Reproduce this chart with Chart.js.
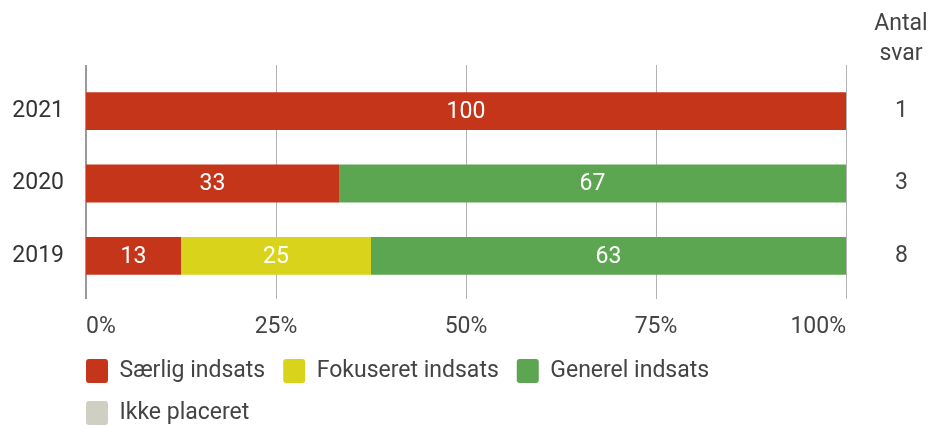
<!DOCTYPE html>
<html>
<head>
<meta charset="utf-8">
<script src="https://cdn.jsdelivr.net/npm/chart.js@4.4.0/dist/chart.umd.min.js"></script>
<style>
html, body { margin: 0; padding: 0; background: #fff; }
#wrap { width: 930px; height: 425px; }
</style>
</head>
<body>
<div id="wrap"><canvas id="mycanvas"></canvas></div>
<script>
var years = ['2021', '2020', '2019'];
var saerlig = [100, 33.3, 12.5];
var fokuseret = [0, 0, 25];
var generel = [0, 66.7, 62.5];
var ikkePlaceret = [0, 0, 0];
var antalSvar = ['1', '3', '8'];
var xTicks = [0, 25, 50, 75, 100];

var textColor = '#444';
Chart.defaults.font.family = 'Roboto, sans-serif';
Chart.defaults.font.size = 23;

// vertical grid lines, a bit longer than the plot area
var gridLines = {
	id: 'gridLines',
	beforeDatasetsDraw: function(chart) {
		var ctx = chart.ctx, area = chart.chartArea, x = chart.scales.x;
		ctx.save();
		xTicks.forEach(function(v) {
			var px = x.getPixelForValue(v);
			ctx.beginPath();
			if (v === 0) {
				ctx.lineWidth = 2;
				ctx.strokeStyle = '#9a9a9a';
				px = Math.round(px);
			} else {
				ctx.lineWidth = 1;
				ctx.strokeStyle = '#b4b4b4';
				px = Math.round(px) + 0.5;
			}
			ctx.moveTo(px, area.top - 10);
			ctx.lineTo(px, area.bottom + 7);
			ctx.stroke();
		});
		ctx.restore();
	}
};

// value labels inside the bars
var barLabels = {
	id: 'barLabels',
	afterDatasetsDraw: function(chart) {
		var ctx = chart.ctx;
		ctx.save();
		ctx.fillStyle = '#fff';
		ctx.font = '23px Roboto, sans-serif';
		ctx.textAlign = 'center';
		ctx.textBaseline = 'middle';
		chart.data.datasets.forEach(function(ds, i) {
			var meta = chart.getDatasetMeta(i);
			meta.data.forEach(function(bar, j) {
				var v = ds.data[j];
				if (!v) return;
				ctx.fillText(Math.round(v), (bar.x + bar.base) / 2, bar.y + 1);
			});
		});
		ctx.restore();
	}
};

// "Antal svar" header over the right axis
var header = {
	id: 'header',
	afterDraw: function(chart) {
		var ctx = chart.ctx, y2 = chart.scales.y2, area = chart.chartArea;
		var cx = y2.left + 55;
		ctx.save();
		ctx.fillStyle = textColor;
		ctx.font = '23px Roboto, sans-serif';
		ctx.textAlign = 'center';
		ctx.textBaseline = 'middle';
		ctx.fillText('Antal', cx, area.top - 51);
		ctx.fillText('svar', cx, area.top - 21);
		ctx.restore();
	}
};

// legend starts under the y axis line
var legendShift = {
	id: 'legendShift',
	afterLayout: function(chart) {
		var lg = chart.legend;
		lg.left = chart.chartArea.left - lg.options.labels.padding;
		lg.top -= 24;
	}
};

var chartdata = {
	labels: years,
	datasets: [
		{ label: 'Særlig indsats', data: saerlig, backgroundColor: '#c4351a' },
		{ label: 'Fokuseret indsats', data: fokuseret, backgroundColor: '#d9d41b' },
		{ label: 'Generel indsats', data: generel, backgroundColor: '#5ca651' },
		{ label: 'Ikke placeret', data: ikkePlaceret, backgroundColor: '#cfcfc4' }
	]
};

var ctx = document.getElementById('mycanvas');

var barGraph = new Chart(ctx, {
	type: 'bar',
	data: chartdata,
	plugins: [gridLines, barLabels, header, legendShift],
	options: {
		indexAxis: 'y',
		responsive: true,
		maintainAspectRatio: false,
		animation: false,
		datasets: {
			bar: { categoryPercentage: 1, barPercentage: 0.524, borderWidth: 0 }
		},
		layout: { padding: { top: 75, left: 0, right: 0, bottom: 0 } },
		scales: {
			x: {
				stacked: true,
				min: 0,
				max: 100,
				grid: { display: false, drawTicks: false },
				border: { display: false },
				ticks: {
					stepSize: 25,
					align: 'inner',
					padding: 21,
					color: textColor,
					callback: function(v) { return v + '%'; }
				},
				afterFit: function(s) { s.height = 73; }
			},
			y: {
				stacked: true,
				offset: true,
				grid: { display: false, drawTicks: false },
				border: { display: false },
				ticks: { color: '#333', padding: 22 },
				afterFit: function(s) { s.width = 86; }
			},
			y2: {
				type: 'category',
				labels: antalSvar,
				position: 'right',
				offset: true,
				grid: { display: false, drawTicks: false },
				border: { display: false },
				ticks: { color: textColor, crossAlign: 'center', padding: 49 },
				afterFit: function(s) { s.width = 84; }
			}
		},
		plugins: {
			tooltip: { enabled: false },
			legend: {
				position: 'bottom',
				align: 'start',
				fullSize: false,
				maxHeight: 60,
				labels: {
					boxWidth: 22,
					boxHeight: 24,
					padding: 18,
					color: textColor,
					useBorderRadius: true,
					borderRadius: 3
				}
			}
		}
	}
});
</script>
</body>
</html>
